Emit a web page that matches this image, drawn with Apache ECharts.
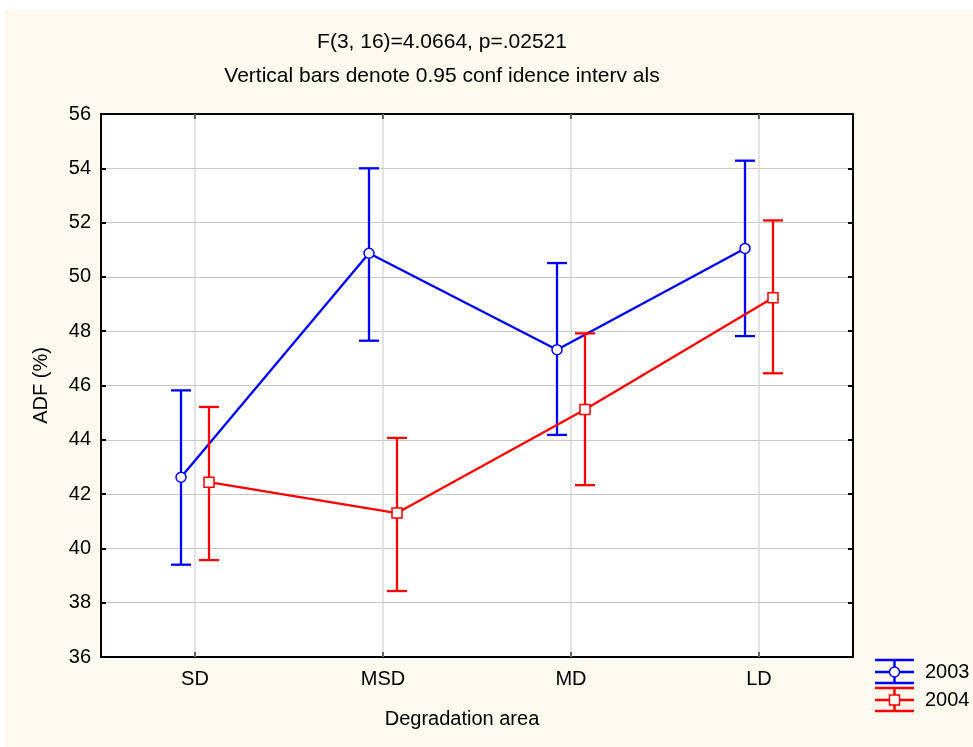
<!DOCTYPE html>
<html>
<head>
<meta charset="utf-8">
<script src="https://cdn.jsdelivr.net/npm/echarts@6/dist/echarts.min.js"></script>
<style>
  html, body { margin: 0; padding: 0; background: #ffffff; }
  #chart { width: 973px; height: 747px; }
</style>
</head>
<body>
<div id="chart"></div>
<script>
// Degradation areas on the x axis
var categories = ['SD', 'MSD', 'MD', 'LD'];
var yTicks = { min: 36, max: 56, step: 2 };

// ADF (%) means with 0.95 confidence limits
var mean2003 = [42.62, 50.87, 47.32, 51.05];
var low2003  = [39.40, 47.65, 44.18, 47.82];
var high2003 = [45.82, 54.00, 50.51, 54.28];

var mean2004 = [42.44, 41.30, 45.12, 49.23];
var low2004  = [39.57, 38.43, 42.33, 46.45];
var high2004 = [45.21, 44.07, 47.92, 52.08];

var seriesNames = ['2003', '2004'];

var BLUE = '#0000ff';
var RED = '#ff0000';
var FONT = '"Liberation Sans", Arial, sans-serif';

function rows(m, lo, hi) {
  return m.map(function (v, i) { return [i, v, lo[i], hi[i]]; });
}

function errorSeries(name, m, lo, hi, color, offset, shape) {
  return {
    type: 'custom',
    name: name,
    data: rows(m, lo, hi),
    encode: { x: 0, y: [1, 2, 3] },
    z: 5,
    renderItem: function (params, api) {
      var i = api.value(0);
      var p = api.coord([i, api.value(1)]);
      var x = p[0] + offset;
      var yLo = api.coord([i, api.value(2)])[1];
      var yHi = api.coord([i, api.value(3)])[1];
      var cap = 10;
      var st = { stroke: color, lineWidth: 2.3 };
      var kids = [];
      if (i < m.length - 1) {
        var n = api.coord([i + 1, m[i + 1]]);
        kids.push({ type: 'line', shape: { x1: x, y1: p[1], x2: n[0] + offset, y2: n[1] }, style: st });
      }
      kids.push({ type: 'line', shape: { x1: x, y1: yHi, x2: x, y2: yLo }, style: st });
      kids.push({ type: 'line', shape: { x1: x - cap, y1: yHi, x2: x + cap, y2: yHi }, style: st });
      kids.push({ type: 'line', shape: { x1: x - cap, y1: yLo, x2: x + cap, y2: yLo }, style: st });
      if (shape === 'circle') {
        kids.push({ type: 'circle', shape: { cx: x, cy: p[1], r: 5 }, style: { fill: '#ffffff', stroke: color, lineWidth: 1.5 } });
      } else {
        kids.push({ type: 'rect', shape: { x: x - 5, y: p[1] - 5, width: 10, height: 10 }, style: { fill: '#ffffff', stroke: color, lineWidth: 1.5 } });
      }
      return { type: 'group', children: kids };
    }
  };
}

// vertical grid lines through each category centre
var gridLines = {
  type: 'custom',
  data: categories.map(function (c, i) { return [i, yTicks.min]; }),
  encode: { x: 0, y: 1 },
  z: 1,
  silent: true,
  renderItem: function (params, api) {
    var cs = params.coordSys;
    var x = api.coord([api.value(0), yTicks.min])[0];
    return {
      type: 'line',
      shape: { x1: x, y1: cs.y, x2: x, y2: cs.y + cs.height },
      style: { stroke: '#c8c8c8', lineWidth: 1 }
    };
  }
};

function legendItem(y, color, shape, label) {
  var st = { stroke: color, lineWidth: 2.5 };
  var kids = [
    { type: 'line', shape: { x1: 875, y1: y - 12, x2: 914, y2: y - 12 }, style: st },
    { type: 'line', shape: { x1: 875, y1: y, x2: 914, y2: y }, style: st },
    { type: 'line', shape: { x1: 875, y1: y + 11, x2: 914, y2: y + 11 }, style: st },
    { type: 'line', shape: { x1: 894.5, y1: y - 12, x2: 894.5, y2: y + 11 }, style: st }
  ];
  if (shape === 'circle') {
    kids.push({ type: 'circle', shape: { cx: 894.5, cy: y, r: 5 }, style: { fill: '#ffffff', stroke: color, lineWidth: 1.5 } });
  } else {
    kids.push({ type: 'rect', shape: { x: 889.5, y: y - 5, width: 10, height: 10 }, style: { fill: '#ffffff', stroke: color, lineWidth: 1.5 } });
  }
  kids.push({ type: 'text', x: 925, y: y, style: { text: label, fill: '#000', font: '20px ' + FONT, textVerticalAlign: 'middle' } });
  return { type: 'group', children: kids };
}

var axisLine = { show: true, lineStyle: { color: '#000', width: 2 } };
var labelFont = { color: '#000', fontSize: 20, fontFamily: FONT };

var option = {
  backgroundColor: '#ffffff',
  animation: false,
  graphic: [
    { type: 'rect', z: -10, shape: { x: 5, y: 10, width: 968, height: 737 }, style: { fill: '#fdf9ee' } },
    { type: 'text', x: 442, y: 42, style: { text: 'F(3, 16)=4.0664, p=.02521', fill: '#000', font: '21px ' + FONT, textAlign: 'center', textVerticalAlign: 'middle' } },
    { type: 'text', x: 442, y: 76, style: { text: 'Vertical bars denote 0.95 conf idence interv als', fill: '#000', font: '21px ' + FONT, textAlign: 'center', textVerticalAlign: 'middle' } },
    legendItem(672, BLUE, 'circle', seriesNames[0]),
    legendItem(700, RED, 'square', seriesNames[1])
  ],
  grid: { left: 101, top: 114, right: 120, bottom: 90, show: true, backgroundColor: '#ffffff', borderWidth: 0 },
  xAxis: [
    {
      type: 'category', data: categories, boundaryGap: true,
      name: 'Degradation area', nameLocation: 'middle', nameGap: 52,
      nameTextStyle: Object.assign({ padding: [0, 30, 0, 0] }, labelFont),
      axisLine: axisLine,
      axisTick: { show: true, inside: true, alignWithLabel: true, length: 5, lineStyle: { color: '#000', width: 2 } },
      axisLabel: Object.assign({ margin: 12 }, labelFont),
      splitLine: { show: false }
    },
    {
      type: 'category', data: categories, position: 'top', boundaryGap: true,
      axisLine: axisLine,
      axisTick: { show: true, inside: true, alignWithLabel: true, length: 5, lineStyle: { color: '#000', width: 2 } },
      axisLabel: { show: false },
      splitLine: { show: false }
    }
  ],
  yAxis: [
    {
      type: 'value', min: yTicks.min, max: yTicks.max, interval: yTicks.step,
      name: 'ADF (%)', nameLocation: 'middle', nameGap: 50, nameRotate: 90,
      nameTextStyle: labelFont,
      axisLine: axisLine,
      axisTick: { show: true, inside: true, length: 5, lineStyle: { color: '#000', width: 2 } },
      axisLabel: Object.assign({ margin: 10 }, labelFont),
      splitLine: { show: true, lineStyle: { color: '#c8c8c8', width: 1 } }
    },
    {
      type: 'value', min: yTicks.min, max: yTicks.max, interval: yTicks.step, position: 'right',
      axisLine: axisLine,
      axisTick: { show: true, inside: true, length: 5, lineStyle: { color: '#000', width: 2 } },
      axisLabel: { show: false },
      splitLine: { show: false }
    }
  ],
  series: [
    gridLines,
    errorSeries(seriesNames[0], mean2003, low2003, high2003, BLUE, -14, 'circle'),
    errorSeries(seriesNames[1], mean2004, low2004, high2004, RED, 14, 'square')
  ]
};

var chart = echarts.init(document.getElementById('chart'), null, { renderer: 'canvas' });
chart.setOption(option);
</script>
</body>
</html>
